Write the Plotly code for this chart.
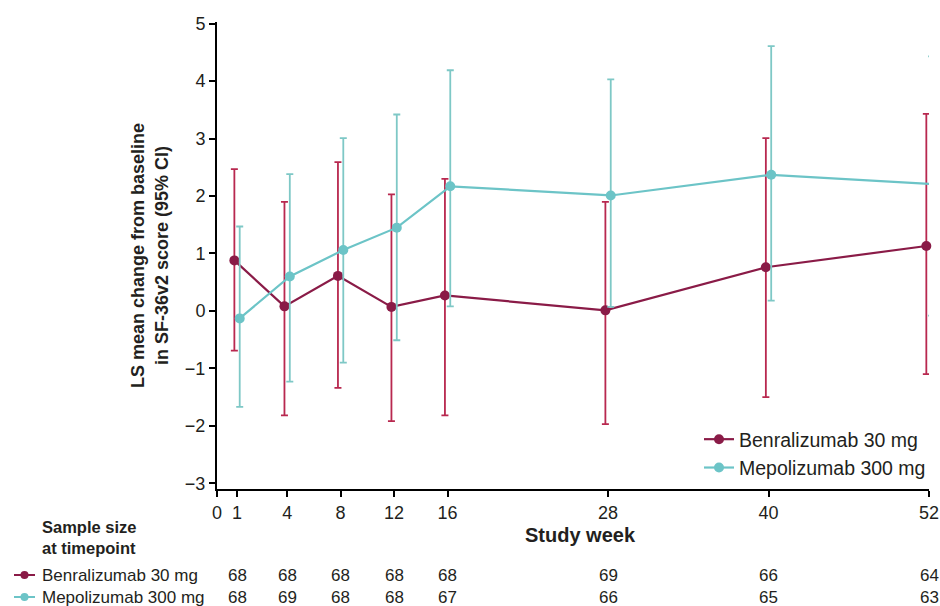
import numpy as np
import plotly.graph_objects as go

# ---------------- data ----------------
weeks = [1, 4, 8, 12, 16, 28, 40, 52]
x_tick_weeks = [0, 1, 4, 8, 12, 16, 28, 40, 52]
y_ticks = [-3, -2, -1, 0, 1, 2, 3, 4, 5]

benra_name = "Benralizumab 30 mg"
benra_mean = [0.88, 0.08, 0.61, 0.07, 0.27, 0.01, 0.76, 1.13]
benra_upper = [2.47, 1.90, 2.59, 2.03, 2.30, 1.90, 3.01, 3.43]
benra_lower = [-0.69, -1.82, -1.34, -1.92, -1.82, -1.97, -1.50, -1.10]
benra_n = [68, 68, 68, 68, 68, 69, 66, 64]

mepo_name = "Mepolizumab 300 mg"
mepo_mean = [-0.13, 0.60, 1.06, 1.45, 2.17, 2.01, 2.37, 2.21]
mepo_upper = [1.47, 2.38, 3.01, 3.42, 4.19, 4.03, 4.61, 4.43]
mepo_lower = [-1.67, -1.23, -0.90, -0.51, 0.08, 0.07, 0.18, -0.08]
mepo_n = [68, 69, 68, 68, 67, 66, 65, 63]

# ---------------- scale (broken time axis: early weeks are stretched) ----------------
SCALE_WEEK = [0, 1, 4, 52]
SCALE_POS = [0, 1.5, 5.25, 53.3]


def xscale(w):
    return np.interp(np.asarray(w, dtype=float), SCALE_WEEK, SCALE_POS)


DODGE = 0.2

# ---------------- styles ----------------
BENRA_LINE = "#8a1b47"
BENRA_ERR = "#b8284f"
MEPO_LINE = "#6cc4c7"
MEPO_ERR = "#7ec8c6"
TEXT = "#231f20"
FONT = "Liberation Sans, Arial, sans-serif"

W, H = 940, 606
ML, MR, MT, MB = 217, 11, 22, 117
PW, PH = W - ML - MR, H - MT - MB


def pxx(px):
    return (px - ML) / PW


def pxy(py):
    return (H - MB - py) / PH


fig = go.Figure()


def add_series(name, mean, upper, lower, shift, line_col, err_col):
    mean = np.array(mean)
    fig.add_trace(go.Scatter(
        x=xscale(weeks) + shift,
        y=mean,
        name=name,
        mode="lines+markers",
        line=dict(color=line_col, width=2.2),
        marker=dict(color=line_col, size=10),
        error_y=dict(
            type="data", symmetric=False,
            array=np.array(upper) - mean,
            arrayminus=mean - np.array(lower),
            color=err_col, thickness=1.8, width=3.5,
        ),
        cliponaxis=False,
    ))


add_series(benra_name, benra_mean, benra_upper, benra_lower, -DODGE, BENRA_LINE, BENRA_ERR)
add_series(mepo_name, mepo_mean, mepo_upper, mepo_lower, DODGE, MEPO_LINE, MEPO_ERR)

fig.update_xaxes(
    range=[0, 53.3],
    tickvals=xscale(x_tick_weeks),
    ticktext=[str(w) for w in x_tick_weeks],
    ticks="outside", ticklen=6, tickwidth=1.5, tickcolor="black",
    showline=True, linecolor="black", linewidth=2,
    showgrid=False, zeroline=False, automargin=False,
    tickfont=dict(size=18, color=TEXT, family=FONT),
)
fig.update_yaxes(
    range=[-3.1, 5.03],
    tickvals=y_ticks,
    ticktext=[str(v).replace("-", "\u2212") for v in y_ticks],
    ticks="outside", ticklen=6, tickwidth=1.5, tickcolor="black",
    showline=True, linecolor="black", linewidth=2,
    showgrid=False, zeroline=False, automargin=False,
    tickfont=dict(size=18, color=TEXT, family=FONT),
    title=dict(
        text="<b>LS mean change from baseline<br>in SF-36v2 score (95% CI)</b>",
        font=dict(size=18, color=TEXT, family=FONT),
        standoff=12,
    ),
)

annotations = []
# x-axis title
annotations.append(dict(
    x=pxx(580), y=pxy(535), xref="paper", yref="paper",
    text="<b>Study week</b>", showarrow=False,
    font=dict(size=20, color=TEXT, family=FONT),
    xanchor="center", yanchor="middle",
))
# table header
annotations.append(dict(
    x=pxx(40), y=pxy(537), xref="paper", yref="paper",
    text="<b>Sample size<br>at timepoint</b>", showarrow=False, align="left",
    font=dict(size=16.5, color=TEXT, family=FONT),
    xanchor="left", yanchor="middle",
))

shapes = []
rows = [(benra_name, benra_n, BENRA_LINE, 575), (mepo_name, mepo_n, MEPO_LINE, 597)]
for name, counts, col, py in rows:
    annotations.append(dict(
        x=pxx(40), y=pxy(py), xref="paper", yref="paper",
        text=name, showarrow=False,
        font=dict(size=17, color=TEXT, family=FONT),
        xanchor="left", yanchor="middle",
    ))
    for wk, n in zip(weeks, counts):
        annotations.append(dict(
            x=float(xscale(wk)), y=pxy(py), xref="x", yref="paper",
            text=str(n), showarrow=False,
            font=dict(size=17, color=TEXT, family=FONT),
            xanchor="center", yanchor="middle",
        ))
    shapes.append(dict(
        type="line", xref="paper", yref="paper",
        x0=pxx(14), x1=pxx(35), y0=pxy(py), y1=pxy(py),
        line=dict(color=col, width=2),
    ))
    shapes.append(dict(
        type="circle", xref="paper", yref="paper",
        x0=pxx(20.5), x1=pxx(28.5), y0=pxy(py - 4), y1=pxy(py + 4),
        line=dict(color=col, width=0), fillcolor=col,
    ))

fig.update_layout(
    width=W, height=H,
    margin=dict(l=ML, r=MR, t=MT, b=MB, autoexpand=False),
    paper_bgcolor="white", plot_bgcolor="white",
    font=dict(family=FONT, color=TEXT),
    showlegend=True,
    legend=dict(
        x=pxx(931), y=pxy(420), xanchor="right", yanchor="top",
        bgcolor="rgba(0,0,0,0)",
        font=dict(size=19.5, color=TEXT, family=FONT),
        itemwidth=30, tracegroupgap=0,
    ),
    annotations=annotations,
    shapes=shapes,
)

fig.write_html("out.html", post_script="document.body.style.margin='0';",
               config={"displayModeBar": False})
